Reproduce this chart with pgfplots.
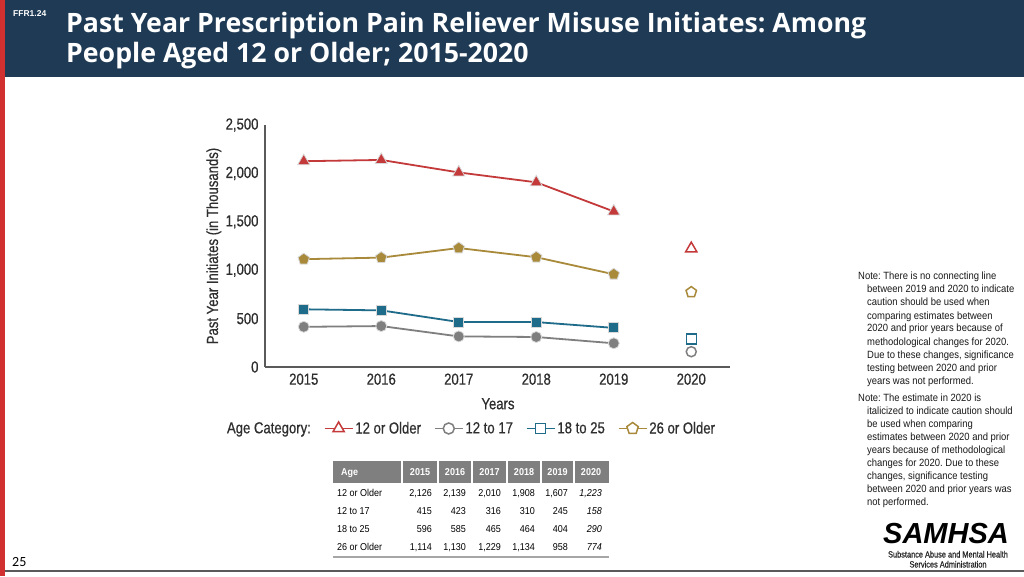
\documentclass[border=0pt]{standalone}
\usepackage{pgfplots}
\usepackage{pgfplotstable}
\pgfplotsset{compat=1.18}
\usepackage{fontspec}
\setmainfont{Liberation Sans}
\newfontfamily\nar{Liberation Sans}[FakeStretch=0.82, FakeBold=0.5]
\newfontfamily\notef{Liberation Sans}[FakeStretch=0.9]
\newfontfamily\titlef{Open Sans}
\newfontfamily\pagef{Carlito}
\usetikzlibrary{plotmarks}
\definecolor{navy}{HTML}{1E3A55}
\definecolor{stripred}{HTML}{D03030}
\definecolor{cred}{HTML}{C43A3A}
\definecolor{cgray}{HTML}{7F7F7F}
\definecolor{cblue}{HTML}{1F6B8A}
\definecolor{cgold}{HTML}{A88A3A}
\definecolor{axisgray}{HTML}{5A5A5A}
\definecolor{ticktext}{HTML}{2E2E2E}
\definecolor{hdrgray}{HTML}{7F7F7F}

\pgfplotstableread{
year a b c d
2015 2126 415 596 1114
2016 2139 423 585 1130
2017 2010 316 465 1229
2018 1908 310 464 1134
2019 1607 245 404 958
}\main
\pgfplotstableread{
year a b c d
2020 1223 158 290 774
}\last

\newcommand{\nl}[3]{\node[anchor=base west, inner sep=0pt, text=black!90, font=\notef\fontsize{10.5}{12}\selectfont] at (#1,#2) {#3};}
\newcommand{\rv}[3]{\node[anchor=base east, inner sep=0pt, font=\notef\fontsize{10}{12}\selectfont] at (#1,#2) {#3};}
\newcommand{\trow}[8]{%
  \node[anchor=base west, inner sep=0pt, font=\notef\fontsize{10}{12}\selectfont] at (337,#1) {#2};
  \rv{432}{#1}{#3}\rv{466}{#1}{#4}\rv{501}{#1}{#5}\rv{535}{#1}{#6}\rv{568}{#1}{#7}\rv{602}{#1}{\itshape #8}}

\begin{document}
\frenchspacing
\begin{tikzpicture}[x=1pt,y=1pt]
\useasboundingbox (0,0) rectangle (1024,576);
\fill[white] (0,0) rectangle (1024,576);
\fill[navy] (5,499) rectangle (1024,576);
\fill[stripred] (0,0) rectangle (5,576);
\draw[axisgray, line width=1.2pt] (5,5) -- (1024,5);
\node[anchor=base west, inner sep=0pt, white, font=\bfseries\fontsize{8.5}{10}\selectfont] at (13,559) {FFR1.24};
\node[anchor=base west, inner sep=0pt, white, font=\titlef\bfseries\fontsize{26.7}{30}\selectfont] at (66,543) {Past Year Prescription Pain Reliever Misuse Initiates: Among};
\node[anchor=base west, inner sep=0pt, white, font=\titlef\bfseries\fontsize{26.7}{30}\selectfont] at (66,513) {People Aged 12 or Older; 2015-2020};
\node[anchor=base west, inner sep=0pt, font=\pagef\fontsize{14}{16}\selectfont] at (12,10) {25};

% notes
\nl{858}{296}{Note: There is no connecting line}
\nl{867}{283}{between 2019 and 2020 to indicate}
\nl{867}{270}{caution should be used when}
\nl{867}{257}{comparing estimates between}
\nl{867}{244}{2020 and prior years because of}
\nl{867}{231}{methodological changes for 2020.}
\nl{867}{218}{Due to these changes, significance}
\nl{867}{205}{testing between 2020 and prior}
\nl{867}{192}{years was not performed.}
\nl{858}{175}{Note: The estimate in 2020 is}
\nl{867}{162}{italicized to indicate caution should}
\nl{867}{149}{be used when comparing}
\nl{867}{136}{estimates between 2020 and prior}
\nl{867}{123}{years because of methodological}
\nl{867}{110}{changes for 2020. Due to these}
\nl{867}{97}{changes, significance testing}
\nl{867}{84}{between 2020 and prior years was}
\nl{867}{71}{not performed.}

% logo
\node[anchor=base, inner sep=0pt, font=\bfseries\itshape\fontsize{29}{30}\selectfont] at (946,32.5) {SAMHSA};
\node[anchor=base, inner sep=0pt, text=black!85, font=\nar\fontsize{9}{10}\selectfont] at (948,18.5) {Substance Abuse and Mental Health};
\node[anchor=base, inner sep=0pt, text=black!85, font=\nar\fontsize{9}{10}\selectfont] at (948,8.5) {Services Administration};

% table
\fill[hdrgray] (333,93) rectangle (609,115);
\foreach \xx in {402,438,472,507,541,574} {\draw[white, line width=1.2pt] (\xx,93) -- (\xx,115);}
\node[anchor=base west, inner sep=0pt, white, font=\notef\bfseries\fontsize{10}{12}\selectfont] at (341,100.5) {Age};
\foreach \xx/\yy in {420/2015,455/2016,489.5/2017,524/2018,557.5/2019,591/2020} {\node[anchor=base, inner sep=0pt, white, font=\notef\bfseries\fontsize{10}{12}\selectfont] at (\xx,100.5) {\yy};}
\trow{79.5}{12 or Older}{2,126}{2,139}{2,010}{1,908}{1,607}{1,223}
\trow{61.5}{12 to 17}{415}{423}{316}{310}{245}{158}
\trow{44}{18 to 25}{596}{585}{465}{464}{404}{290}
\trow{26}{26 or Older}{1,114}{1,130}{1,229}{1,134}{958}{774}
\draw[black!35, line width=1.5pt] (333,19) -- (609,19);

\begin{axis}[
  at={(265pt,209pt)}, anchor=south west,
  scale only axis, width=465pt, height=242pt,
  xmin=2014.5, xmax=2020.5, ymin=0, ymax=2500,
  axis lines=left,
  axis line style={-, draw=axisgray, line width=1.3pt},
  xtick={2015,2016,2017,2018,2019,2020},
  ytick={0,500,1000,1500,2000,2500},
  major tick length=0pt,
  /pgf/number format/assume math mode=true,
  xticklabel style={/pgf/number format/1000 sep=, yshift=-3pt},
  yticklabel style={/pgf/number format/1000 sep={,}, xshift=-3pt},
  tick label style={font=\nar\fontsize{16}{18}\selectfont, text=ticktext},
  xlabel={Years},
  xlabel style={at={(axis description cs:0.501,-0.152)}, anchor=center, font=\nar\fontsize{16}{18}\selectfont, text=ticktext},
  ylabel={Past Year Initiates (in Thousands)},
  ylabel style={at={(axis description cs:-0.11,0.5)}, anchor=center, font=\nar\fontsize{16}{18}\selectfont, text=ticktext},
  clip=false,
  legend columns=5,
  legend cell align=left,
  legend style={draw=none, fill=none, at={(axis description cs:0.443,-0.254)}, anchor=center,
    font=\nar\fontsize{16}{18}\selectfont, text=ticktext,
    /tikz/every even column/.append style={column sep=11pt}},
  legend image code/.code={\draw[mark repeat=2, mark phase=2] plot coordinates {(0pt,0pt) (14pt,0pt) (28pt,0pt)};},
]
\addlegendimage{empty legend}\addlegendentry{Age Category:}
\addlegendimage{cred, line width=1.5pt, mark=triangle*, mark size=6.5pt, mark options={fill=white, solid}}\addlegendentry{12 or Older}
\addlegendimage{cgray, line width=1.5pt, mark=*, mark size=5.5pt, mark options={fill=white, solid}}\addlegendentry{12 to 17}
\addlegendimage{cblue, line width=1.5pt, mark=square*, mark size=5pt, mark options={fill=white, solid}}\addlegendentry{18 to 25}
\addlegendimage{cgold, line width=1.5pt, mark=pentagon*, mark size=6pt, mark options={fill=white, solid}}\addlegendentry{26 or Older}

\addplot[forget plot, cgray, line width=1.8pt, mark=*, mark size=5.5pt, mark options={fill=cgray, draw=black!15, line width=0.8pt}] table[x=year,y=b]{\main};
\addplot[forget plot, cblue, line width=1.8pt, mark=square*, mark size=5pt, mark options={fill=cblue, draw=black!15, line width=0.8pt}] table[x=year,y=c]{\main};
\addplot[forget plot, cgold, line width=1.8pt, mark=pentagon*, mark size=6pt, mark options={fill=cgold, draw=black!15, line width=0.8pt}] table[x=year,y=d]{\main};
\addplot[forget plot, cred, line width=1.8pt, mark=triangle*, mark size=7pt, mark options={fill=cred, draw=black!15, line width=0.8pt}] table[x=year,y=a]{\main};

\addplot[forget plot, only marks, mark=*, mark size=5pt, mark options={fill=white, draw=cgray, line width=1.5pt}] table[x=year,y=b]{\last};
\addplot[forget plot, only marks, mark=square*, mark size=5pt, mark options={fill=white, draw=cblue, line width=1.5pt}] table[x=year,y=c]{\last};
\addplot[forget plot, only marks, mark=pentagon*, mark size=5.5pt, mark options={fill=white, draw=cgold, line width=1.5pt}] table[x=year,y=d]{\last};
\addplot[forget plot, only marks, mark=triangle*, mark size=6.5pt, mark options={fill=white, draw=cred, line width=1.5pt}] table[x=year,y=a]{\last};
\end{axis}
\end{tikzpicture}
\end{document}
